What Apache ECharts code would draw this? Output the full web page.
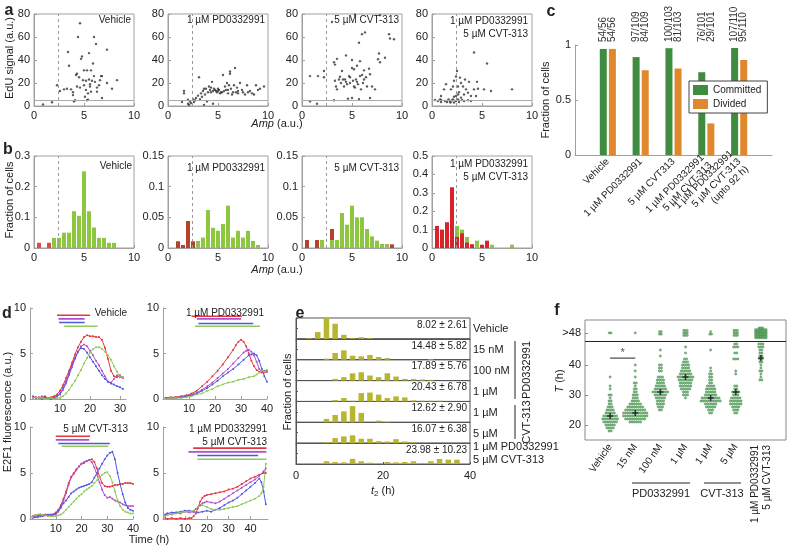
<!DOCTYPE html>
<html><head><meta charset="utf-8">
<script src="https://cdn.jsdelivr.net/npm/echarts@6/dist/echarts.min.js"></script>
<style>html,body{margin:0;padding:0;background:#fff}#c{width:788px;height:547px}</style>
</head><body><div id="c"></div>
<script>
// ---------------- DATA ----------------
// panel a: [Amp, EdU]
const aVehicle = [[0.9,1.4],[1.8,3.2],[2.3,18],[2.6,13],[3.0,14.5],[3.3,15],[3.4,47],[3.5,35],[3.7,14.5],[3.9,9.5],[4.1,5],[4.3,28],[4.3,17],[4.4,60],[4.6,72],[4.5,25],[4.7,41],[4.8,43],[4.9,22.5],[5.0,31],[5.1,8],[5.2,22],[5.2,14],[5.3,31],[5.3,5],[5.4,11],[5.5,46],[5.5,23],[5.6,17],[5.7,31],[5.7,12.5],[5.8,22],[5.9,37],[6.0,60],[6.2,54],[6.1,21],[6.3,16],[6.3,12.5],[6.5,18],[6.6,22.5],[6.7,26],[6.8,26],[6.8,7],[7.3,20],[7.3,49],[7.8,15],[8.3,22.5],[4.2,27],[5.0,18],[4.6,16],[5.6,19],[3.9,12],[6.0,26],[4.0,4],[5.4,5.5]];
const aPD = [[1.4,3.5],[1.6,13],[1.6,11],[2.0,2],[2.1,1],[2.2,4],[2.3,2.5],[2.0,5.5],[2.5,6],[2.6,3.5],[2.7,5],[2.8,7],[3.0,9],[3.1,25],[3.2,6],[3.3,11],[3.4,8],[3.5,13],[3.6,1],[3.6,15],[3.7,10],[3.8,15],[3.9,4],[4.0,12],[4.1,17],[4.2,14],[4.3,12],[4.3,16],[4.4,21],[4.5,13],[4.5,2],[4.6,15],[4.7,14],[4.8,13],[4.9,12],[5.0,13],[5.0,15],[5.1,14],[5.2,11],[5.3,12],[5.4,12],[5.5,27],[5.6,13],[5.7,17],[5.8,14],[5.9,20],[6.0,11],[6.0,14],[6.1,18],[6.2,28],[6.2,30],[6.3,15],[6.4,10],[6.5,12],[6.6,18],[6.7,33],[6.8,12],[6.9,16],[7.0,11],[7.0,13],[7.2,20],[7.4,14],[7.5,12],[7.7,10],[7.9,18],[8.0,12],[8.2,13],[8.4,11],[8.6,10],[8.8,18],[9.0,14],[9.2,15],[9.6,17]];
const aCVT = [[0.8,26],[0.8,4],[1.5,2],[1.6,26],[2.2,30.5],[2.2,25],[3.0,73],[3.2,5],[3.2,38],[3.3,36],[3.3,22],[3.4,17],[3.5,41],[3.5,14.5],[3.7,23],[3.8,25.5],[4.0,30.5],[4.1,23],[4.2,17],[4.3,23],[4.4,44],[4.5,19],[4.6,6.4],[4.7,26],[4.8,20],[4.8,25],[5.0,33],[5.0,40],[5.0,7],[5.1,22],[5.2,17],[5.2,32],[5.3,16],[5.3,79.5],[5.4,23],[5.5,35],[5.6,19],[5.7,55],[5.7,6],[5.8,26],[5.8,39],[5.9,14.5],[6.0,62.5],[6.1,20],[6.2,31],[6.2,23],[6.3,64],[6.4,25],[6.5,17],[6.7,32.5],[6.8,27.6],[6.8,7],[7.0,17],[7.3,14.5],[7.6,40.7],[7.7,45.6],[7.8,38],[7.8,79],[8.3,42],[8.7,62.5],[8.8,58.7],[9.2,58],[4.4,21],[5.5,21],[6.0,27],[3.9,20]];
const aCombo = [[4.2,46.5],[5.5,37],[8.0,14.5],[5.9,13],[5.2,14.5],[4.5,21],[4.6,15],[4.4,8.7],[3.7,21],[3.9,8.7],[3.3,23],[3.1,17],[3.4,14.5],[2.9,20],[2.8,24.7],[2.6,17],[2.5,30.5],[2.4,25.6],[2.2,22],[2.1,17],[1.9,14.5],[1.4,19],[1.2,14.5],[0.9,8.7],[0.8,5.8],[2.6,10],[2.7,12],[2.4,8.7],[2.2,8],[0.3,5.2],[0.6,4.4],[0.9,3.5],[1.3,4.4],[1.5,3.5],[1.8,4],[2.0,5],[2.2,3],[2.4,4.4],[2.6,5.8],[2.7,3.5],[3.0,5.2],[3.2,4.4],[3.6,5],[3.9,4.4],[0.9,5.2],[1.65,5.8],[2.1,5.8],[1.85,3],[2.9,7.3],[3.2,10],[3.6,11.6],[4.2,14.5]];
const ampCut = 2.4, eduCut = 5;

// panel b: histogram bins (Amp) and fractions
const binAmp = [0.5,1,1.5,2,2.5,3,3.5,4,4.5,5,5.5,6,6.5,7,7.5,8,8.5,9,9.5];
const bVehRed   = [0.017,0,0.017,0,0,0,0,0,0,0,0,0,0,0,0,0,0,0,0];
const bVehGreen = [0,0,0,0.033,0.033,0.05,0.05,0.12,0.105,0.25,0.12,0.067,0.033,0.033,0.017,0.017,0,0,0];
const bPDRed    = [0,0.011,0.005,0.044,0.011,0.011,0.005,0.005,0.011,0.022,0.005,0.005,0.005,0.005,0.005,0.005,0.011,0,0];
const bPDGreen  = [0,0,0,0,0,0.011,0.017,0.062,0.033,0.028,0.039,0.069,0.017,0.028,0.017,0.028,0.011,0.005,0];
const bCVTRed   = [0.013,0,0.013,0,0,0.031,0.006,0.006,0.006,0.006,0.019,0.019,0.013,0.006,0,0.006,0.006,0.006,0];
const bCVTGreen = [0,0,0,0.013,0,0.013,0.013,0.057,0.038,0.069,0.05,0.05,0.031,0.019,0.012,0.006,0.006,0,0];
const bComboGreen = [0,0.018,0,0.08,0.12,0.10,0.06,0.02,0.04,0,0,0.018,0,0,0,0.018,0,0,0];
const bComboRed   = [0.12,0.10,0.14,0.33,0.06,0.08,0.03,0.02,0,0.018,0.04,0,0,0,0,0,0,0,0];

// panel c
const cCats = ['Vehicle','1 µM PD0332991','5 µM CVT313','1 µM PD0332991\n5 µM CVT-313','1 µM PD0332991\n5 µM CVT-313\n(upto 92 h)'];
const committedN = [54,97,100,76,107];
const dividedN = [54,84,81,29,95];
const totalN = [56,109,103,101,110];

// panel d: E2F1 traces [time h, fluorescence]
const dVehRed = [[1,0.3],[2,0.1],[3,0.2],[4,0.1],[5,0.3],[6,0.1],[7,0.2],[8,0.3],[9,0.5],[10,0.9],[11,1.5],[12,2.3],[13,3.1],[14,4.0],[15,4.9],[16,5.7],[17,6.3],[18,6.8],[19,7.0],[20,6.9],[21,6.9],[22,6.8],[23,6.8],[24,6.5],[25,5.6],[26,4.4],[27,3.1],[28,2.5],[29,2.4],[30,2.6],[31,2.3]];
const dVehMag = [[1,0.1],[2,0.2],[3,0.1],[4,0.3],[5,0.2],[6,0.1],[7,0.1],[8,0.2],[9,0.3],[10,0.5],[11,1.0],[12,1.7],[13,2.6],[14,3.5],[15,4.4],[16,5.2],[17,5.8],[18,6.0],[19,5.8],[20,5.3],[21,4.8],[22,4.2],[23,3.7],[24,3.1],[25,2.5],[26,1.9],[27,1.8],[28,2.2],[29,2.6],[30,2.4],[31,2.4]];
const dVehBlue = [[1,0.2],[2,0.2],[3,0.1],[4,0.0],[5,0.1],[6,0.1],[7,0.0],[8,0.1],[9,0.3],[10,0.6],[11,1.2],[12,1.9],[13,2.8],[14,3.7],[15,4.5],[16,5.2],[17,5.6],[18,5.5],[19,5.1],[20,4.6],[21,4.1],[22,3.6],[23,3.1],[24,2.6],[25,2.2],[26,1.9],[27,1.7],[28,1.6],[29,1.4],[30,1.3],[31,1.1]];
const dVehGreen = [[1,0.1],[2,0.2],[3,0.1],[4,0.1],[5,0.0],[6,0.1],[7,0.1],[8,0.0],[9,0.1],[10,0.1],[11,0.3],[12,0.6],[13,1.0],[14,1.5],[15,2.0],[16,2.6],[17,3.2],[18,3.9],[19,4.5],[20,5.1],[21,5.5],[22,5.7],[23,5.7],[24,5.5],[25,5.2],[26,4.8],[27,4.3],[28,3.6],[29,3.0],[30,2.5],[31,2.4]];
const dPDRed = [[1,0.1],[3,0.2],[5,0.2],[7,0.3],[9,0.4],[11,0.6],[13,0.9],[15,1.4],[17,1.9],[19,2.5],[21,3.1],[23,3.8],[25,4.6],[27,5.4],[28,5.9],[29,6.3],[30,6.5],[31,6.3],[32,5.8],[33,5.0],[34,4.2],[35,3.6],[36,3.2],[37,3.0],[38,2.9],[39,2.9],[40,3.0]];
const dPDMag = [[1,0.1],[3,0.1],[5,0.2],[7,0.2],[9,0.3],[11,0.5],[13,0.7],[15,1.0],[17,1.4],[19,1.8],[21,2.3],[23,2.8],[25,3.3],[27,3.9],[29,4.5],[31,5.1],[32,5.3],[33,5.4],[34,5.2],[35,4.8],[36,4.1],[37,3.3],[38,3.0],[39,3.1],[40,3.1]];
const dPDBlue = [[1,0.1],[3,0.1],[5,0.1],[7,0.2],[9,0.3],[11,0.4],[13,0.6],[15,0.9],[17,1.2],[19,1.6],[21,2.0],[23,2.5],[25,2.9],[27,3.3],[29,3.8],[31,4.3],[33,4.8],[34,4.9],[35,5.0],[36,4.8],[37,4.2],[38,3.3],[39,2.5],[40,1.9]];
const dPDGreen = [[1,0.0],[3,0.1],[5,0.1],[7,0.1],[9,0.2],[11,0.3],[13,0.5],[15,0.6],[17,0.9],[19,1.1],[21,1.4],[23,1.6],[25,1.8],[27,1.9],[29,2.1],[31,2.2],[33,2.4],[35,2.5],[36,2.7],[37,2.9],[38,3.1],[39,3.0],[40,3.2]];
const dCVTRed = [[1,0.3],[2,0.4],[3,0.3],[4,0.5],[5,0.4],[6,0.5],[7,0.4],[8,0.5],[9,0.5],[10,0.7],[11,1.0],[12,1.5],[13,2.2],[14,3.0],[15,3.9],[16,4.6],[17,5.0],[18,5.4],[19,5.7],[20,6.0],[21,6.1],[22,6.3],[23,6.4],[24,6.5],[25,6.2],[26,5.5],[27,4.6],[28,3.9],[29,3.6],[30,3.5],[31,3.5],[32,3.6],[33,3.7],[34,3.7],[35,3.8],[36,3.8],[37,3.9],[38,3.9],[39,3.9],[40,3.8]];
const dCVTMag = [[1,0.2],[2,0.3],[3,0.4],[4,0.3],[5,0.4],[6,0.4],[7,0.5],[8,0.4],[9,0.4],[10,0.5],[11,0.8],[12,1.2],[13,2.0],[14,2.8],[15,3.7],[16,4.5],[17,4.9],[18,5.3],[19,5.7],[20,6.0],[21,6.2],[22,6.3],[23,6.4],[24,6.2],[25,5.6],[26,4.8],[27,4.0],[28,3.2],[29,2.6],[30,2.3],[31,2.4],[32,2.2],[33,2.0],[34,1.9],[35,1.8],[36,1.6],[37,1.5],[38,1.4],[39,1.4],[40,1.4]];
const dCVTBlue = [[1,0.1],[2,0.2],[3,0.2],[4,0.3],[5,0.3],[6,0.4],[7,0.4],[8,0.4],[9,0.5],[10,0.6],[11,0.9],[12,1.3],[13,1.7],[14,2.0],[15,2.4],[16,2.8],[17,3.0],[18,3.2],[19,3.4],[20,3.5],[21,3.6],[22,3.7],[23,3.8],[24,4.0],[25,4.5],[26,5.0],[27,5.5],[28,6.0],[29,6.5],[30,6.9],[31,7.2],[32,7.3],[33,6.5],[34,5.0],[35,3.8],[36,2.7],[37,1.8],[38,1.2],[39,1.0],[40,0.9]];
const dCVTGreen = [[1,0.2],[2,0.4],[3,0.5],[4,0.5],[5,0.4],[6,0.4],[7,0.3],[8,0.3],[9,0.3],[10,0.3],[11,0.4],[12,0.5],[13,0.7],[14,1.0],[15,1.3],[16,1.6],[17,1.9],[18,2.2],[19,2.5],[20,2.7],[21,3.0],[22,3.2],[23,3.4],[24,3.6],[25,3.9],[26,4.2],[27,4.5],[28,4.8],[29,5.0],[30,5.1],[31,4.7],[32,4.0],[33,3.0],[34,2.0],[35,1.4],[36,1.0],[37,0.8],[38,0.7],[39,0.6],[40,0.6]];
const dComboRed = [[1,0.1],[2,0.0],[4,0.1],[6,0.0],[8,0.1],[10,0.0],[12,0.1],[13,0.1],[14,0.3],[15,0.6],[16,1.2],[17,1.9],[18,2.3],[19,2.5],[20,2.6],[22,2.7],[24,2.8],[26,2.9],[28,3.0],[30,3.2],[32,3.3],[34,3.5],[36,3.8],[38,4.1],[40,4.4],[42,4.6],[44,4.8],[46,5.0],[47,5.0]];
const dComboMag = [[1,0.4],[2,0.6],[4,0.5],[6,0.7],[8,0.6],[10,0.8],[12,0.7],[14,0.8],[15,1.1],[16,1.3],[17,1.5],[18,1.7],[19,1.8],[20,1.9],[22,1.8],[24,1.7],[26,1.9],[28,2.2],[30,2.5],[32,2.8],[34,3.1],[36,3.4],[38,3.7],[40,4.0],[42,4.3],[44,4.7],[46,5.2],[47,5.5]];
const dComboBlue = [[1,0.5],[2,0.6],[4,0.7],[6,0.7],[8,0.8],[10,0.9],[12,0.9],[14,0.8],[16,0.7],[18,0.8],[20,0.9],[22,0.8],[24,1.0],[26,1.2],[28,1.5],[30,1.8],[32,2.0],[34,2.3],[36,2.7],[38,3.1],[40,3.5],[42,3.9],[44,4.4],[45,4.0],[46,3.0],[47,1.6]];
const dComboGreen = [[1,0.3],[2,0.4],[4,0.5],[6,0.6],[8,0.7],[10,0.8],[12,0.8],[14,0.9],[16,1.3],[18,1.5],[20,1.3],[22,1.1],[24,1.0],[26,1.0],[28,1.1],[30,1.2],[32,1.3],[34,1.4],[36,1.6],[38,1.8],[40,2.0],[42,2.2],[44,2.5],[45,2.8],[46,3.5],[47,6.0]];
// interval bars [start h, end h, level] in order red, magenta, blue, green
const dVehIntervals = [[9,20,9.2],[9.5,18.2,8.8],[9.7,18.2,8.4],[11.4,22.5,8.0]];
const dPDIntervals = [[11,30.3,9.1],[13,30,8.8],[13.6,34.7,8.3],[12.3,37.3,8.0]];
const dCVTIntervals = [[10,23.3,9.0],[10,23,8.6],[11,31,8.2],[12.3,30.4,7.9]];
const dComboIntervals = [[13.8,47.3,7.7],[11.6,47.3,7.3],[15.7,43.5,6.9],[15.7,47.3,6.5]];

// panel e: t2 histograms, bin centres (h) and fraction per row
const eBins = [1,3,5,7,9,11,13,15,17,19,21,23,25,27,29,31,33,35,37,39];
const eVehicle = [0,0.013,0.13,0.40,0.29,0.077,0.013,0.032,0.013,0,0,0,0,0,0,0,0,0,0,0];
const ePD15 = [0,0,0,0.02,0.13,0.18,0.077,0.065,0.09,0.052,0.032,0,0,0,0,0.013,0,0,0,0];
const ePD100 = [0,0,0,0,0.032,0.065,0.14,0.16,0.097,0.065,0.14,0.077,0.032,0.032,0.02,0.013,0,0,0,0];
const ePD1u = [0,0,0,0,0.026,0.065,0.013,0.16,0.17,0.13,0.065,0.097,0.077,0.02,0.013,0.013,0.013,0,0,0];
const eCVT1u = [0,0,0,0.065,0.14,0.21,0.31,0.18,0,0.032,0.006,0,0,0,0,0,0,0,0,0];
const eCVT5u = [0,0,0,0.02,0.097,0.13,0.15,0.084,0.084,0.039,0.032,0.077,0.032,0.013,0,0,0,0,0,0];
const eCombo = [0,0,0,0.052,0.039,0.032,0.10,0.052,0.026,0.013,0.039,0.032,0.039,0.052,0.02,0.052,0.097,0.084,0.084,0];
const eRowLabels = ['Vehicle','15 nM','100 nM','1 µM','1 µM','5 µM','1 µM PD0332991\n5 µM CVT-313'];
const eStats = ['8.02 ± 2.61','14.48 ± 5.82','17.89 ± 5.76','20.43 ± 6.78','12.62 ± 2.90','16.07 ± 6.38','23.98 ± 10.23'];

// panel f: T (h) distributions as [hour, count]
const fCats = ['Vehicle','15 nM','100 nM','1 µM','1 µM','5 µM','1 µM PD0332991\n5 µM CVT-313'];
const fVehicle = [[18,2],[19,4],[20,5],[21,7],[22,8],[23,7],[24,5],[25,4],[26,3],[27,2],[28,2],[29,1],[30,2],[32,1],[33,1],[36,1]];
const fPD15 = [[21,6],[22,10],[23,12],[24,12],[25,10],[26,8],[27,6],[28,4],[29,3],[30,3],[31,2],[32,2],[33,1],[34,2],[36,1],[38,1],[40,1]];
const fPD100 = [[25,2],[26,3],[27,4],[28,4],[29,5],[30,6],[31,8],[32,6],[33,5],[34,4],[35,4],[36,3],[38,2],[39,2],[40,2],[43,1],[45,1]];
const fPD1u = [[29,1],[30,3],[31,3],[32,5],[33,6],[34,6],[35,7],[36,8],[37,6],[38,5],[39,4],[40,4],[41,3],[42,2],[44,1],[46,1]];
const fCVT1u = [[24,2],[25,3],[26,5],[27,6],[28,10],[29,9],[30,6],[31,5],[32,5],[33,4],[34,2],[35,2],[36,2],[37,2],[38,1],[39,1],[45,1]];
const fCVT5u = [[24,2],[25,3],[26,4],[27,6],[28,6],[29,5],[30,3],[31,4],[32,2],[33,2],[37,1],[38,1],[42,3],[44,2],[46,3],[47,2]];
const fCombo = [[35,2],[36,1],[37,1],[38,2],[39,1],[40,1],[41,2],[42,2],[43,2],[44,2],[45,2],[46,3],[47,3]];
const fOver48 = [2,1,4,9,3,9,45];
const fMean = [23,24,31,36,29,31,42.3];
const fSigPair = [1,2], fSigLevel = 42.3;

// ---------------- BUILD ----------------
const FONT = '"Liberation Sans", Arial, Helvetica, sans-serif';
const AX = '#a0a0a0';
const grids=[], xAxis=[], yAxis=[], series=[], graphic=[];
function grid(l,t,w,h,box,bc){ grids.push({left:l,top:t,width:w,height:h,show:!!box,borderColor:bc||AX,borderWidth:1,backgroundColor:'rgba(0,0,0,0)'}); return grids.length-1; }
function mk(base,o){ const r=Object.assign({},base); for(const k in o){ if(o[k]&&typeof o[k]==='object'&&!Array.isArray(o[k])&&base[k]&&typeof base[k]==='object') r[k]=Object.assign({},base[k],o[k]); else r[k]=o[k]; } return r; }
function baseAxis(gi){ return {gridIndex:gi,type:'value',splitLine:{show:false},
  axisLine:{show:true,onZero:false,lineStyle:{color:AX,width:1}},
  axisTick:{show:true,inside:true,length:3,lineStyle:{color:AX}},
  axisLabel:{color:'#222',fontSize:11,fontFamily:FONT,margin:4}}; }
function X(gi,o){ xAxis.push(mk(baseAxis(gi),Object.assign({position:'bottom'},o))); return xAxis.length-1; }
function Y(gi,o){ yAxis.push(mk(baseAxis(gi),Object.assign({position:'left'},o))); return yAxis.length-1; }
function txt(x,y,text,o){ o=o||{}; graphic.push({type:'text',x:x,y:y,rotation:o.rot||0,silent:true,z:10,
  style:{text:text,fill:o.color||'#222',fontSize:o.size||10,fontFamily:FONT,fontWeight:o.bold?'bold':'normal',
  align:o.align||'center',verticalAlign:o.va||'middle',textAlign:o.align||'center',textVerticalAlign:o.va||'middle',lineHeight:o.lh,rich:o.rich}}); }
function ln(x1,y1,x2,y2,c,w){ graphic.push({type:'line',silent:true,z:10,shape:{x1:x1,y1:y1,x2:x2,y2:y2},style:{stroke:c||'#222',lineWidth:w||1}}); }
const pairs = (xs,ys) => xs.map((x,i)=>[x,ys[i]]).filter(p=>p[1]>0);

// ---- panel a ----
const aSets=[aVehicle,aPD,aCVT,aCombo];
const pLeft=[34,168,302,432];
aSets.forEach((d,i)=>{
  const g=grid(pLeft[i],14,100,92,true);
  const xi=X(g,{min:0,max:10,interval:5}), yi=Y(g,{min:0,max:80,interval:20});
  series.push({type:'scatter',xAxisIndex:xi,yAxisIndex:yi,data:d,symbolSize:2.4,itemStyle:{color:'#333'},
    markLine:{silent:true,symbol:['none','none'],label:{show:false},animation:false,
      data:[{xAxis:ampCut,lineStyle:{type:[3,3],color:'#999',width:1}},{yAxis:eduCut,lineStyle:{type:'solid',color:'#aaa',width:1}}]}});
});
// ---- panel b ----
const bSets=[
  {max:0.3,int:0.1,bottom:bVehRed,top:bVehGreen,cb:'#e0484e',ct:'#8dc63f'},
  {max:0.15,int:0.05,bottom:bPDRed,top:bPDGreen,cb:'#b8412b',ct:'#8dc63f'},
  {max:0.15,int:0.05,bottom:bCVTRed,top:bCVTGreen,cb:'#b8412b',ct:'#8dc63f'},
  {max:0.5,int:0.1,bottom:bComboGreen,top:bComboRed,cb:'#8dc63f',ct:'#d9232b'}];
bSets.forEach((s,i)=>{
  const g=grid(pLeft[i],156,100,92,true);
  const xi=X(g,{min:0,max:10,interval:5}), yi=Y(g,{min:0,max:s.max,interval:s.int});
  series.push({type:'bar',xAxisIndex:xi,yAxisIndex:yi,stack:'b'+i,barWidth:4,data:pairs(binAmp,s.bottom),itemStyle:{color:s.cb},
    markLine:{silent:true,symbol:['none','none'],label:{show:false},animation:false,data:[{xAxis:ampCut,lineStyle:{type:[3,3],color:'#999',width:1}}]}});
  series.push({type:'bar',xAxisIndex:xi,yAxisIndex:yi,stack:'b'+i,barWidth:4,data:pairs(binAmp,s.top),itemStyle:{color:s.ct}});
});
// ---- panel c ----
{
  const g=grid(575,45,197,110,false);
  const xi=X(g,{type:'category',boundaryGap:false,data:['',...cCats,''],axisTick:{show:false},
    axisLabel:{interval:0,rotate:45,fontSize:10,margin:5,lineHeight:11}});
  const yi=Y(g,{min:0,max:1,interval:0.5,name:'Fraction of cells',nameLocation:'middle',nameGap:20,
    nameTextStyle:{fontSize:11,fontFamily:FONT,color:'#222'}});
  const pad=a=>['-',...a,'-'];
  const comm=committedN.map((n,i)=>n/totalN[i]), div=dividedN.map((n,i)=>n/totalN[i]);
  const lab=(arr)=>({show:true,position:'top',rotate:90,align:'left',verticalAlign:'middle',distance:3,fontSize:10,fontFamily:FONT,color:'#333',
     formatter:p=>arr[p.dataIndex-1]+'/'+totalN[p.dataIndex-1]});
  series.push({type:'bar',name:'Committed',xAxisIndex:xi,yAxisIndex:yi,stack:'cc',barWidth:7,barGap:'30%',data:pad(comm),itemStyle:{color:'#3f8b3f'}});
  series.push({type:'bar',name:'capC',xAxisIndex:xi,yAxisIndex:yi,stack:'cc',barWidth:7,barGap:'30%',data:pad(comm.map(v=>1-v)),itemStyle:{color:'rgba(0,0,0,0)'},label:lab(committedN)});
  series.push({type:'bar',name:'Divided',xAxisIndex:xi,yAxisIndex:yi,stack:'cd',barWidth:7,barGap:'30%',data:pad(div),itemStyle:{color:'#e0882e'}});
  series.push({type:'bar',name:'capD',xAxisIndex:xi,yAxisIndex:yi,stack:'cd',barWidth:7,barGap:'30%',data:pad(div.map(v=>1-v)),itemStyle:{color:'rgba(0,0,0,0)'},label:lab(dividedN)});
}
// ---- panel d ----
const dCol=['#e8363e','#b24fd0','#5158e0','#8fcb5a'];
const dSets=[
  {r:[30,308,96,91],max:32,ticks:[10,20,30],c:[dVehRed,dVehMag,dVehBlue,dVehGreen],iv:dVehIntervals},
  {r:[163,308,104,91],max:40,ticks:[10,20,30,40],c:[dPDRed,dPDMag,dPDBlue,dPDGreen],iv:dPDIntervals},
  {r:[30,427,103,92],max:40,ticks:[10,20,30,40],c:[dCVTRed,dCVTMag,dCVTBlue,dCVTGreen],iv:dCVTIntervals},
  {r:[163,427,105,92],max:48,ticks:[10,20,30,40],c:[dComboRed,dComboMag,dComboBlue,dComboGreen],iv:dComboIntervals}];
dSets.forEach(s=>{
  const g=grid(s.r[0],s.r[1],s.r[2],s.r[3],false);
  const xi=X(g,{min:0,max:s.max,axisLabel:{customValues:s.ticks},axisTick:{customValues:s.ticks}});
  const yi=Y(g,{min:0,max:10,interval:5});
  s.c.forEach((d,k)=>series.push({type:'line',xAxisIndex:xi,yAxisIndex:yi,data:d,symbol:'circle',symbolSize:2,showSymbol:true,
     lineStyle:{width:1,color:dCol[k]},itemStyle:{color:dCol[k]}}));
  s.iv.forEach((v,k)=>series.push({type:'line',xAxisIndex:xi,yAxisIndex:yi,data:[[v[0],v[2]],[v[1],v[2]]],symbol:'none',lineStyle:{width:1.6,color:dCol[k]}}));
});
// ---- panel e ----
const eRows=[eVehicle,ePD15,ePD100,ePD1u,eCVT1u,eCVT5u,eCombo];
const eTop=318, eH=20.86;
eRows.forEach((r,i)=>{
  const last=i===eRows.length-1;
  const g=grid(296,eTop+i*eH,174,eH,true,'#555');
  const xi=X(g,{min:0,max:40,interval:10,axisLine:{lineStyle:{color:'#555'}},axisTick:{show:last,length:2,lineStyle:{color:'#555'},customValues:[0,20,40]},
     axisLabel:{show:last,customValues:[0,20,40],margin:6}});
  const yi=Y(g,{min:0,max:0.4,interval:0.2,axisLine:{lineStyle:{color:'#555'}},axisTick:{length:2,lineStyle:{color:'#555'}},axisLabel:{show:false}});
  series.push({type:'bar',xAxisIndex:xi,yAxisIndex:yi,barWidth:5.5,data:pairs(eBins,r),itemStyle:{color:'#b8b52f'}});
  txt(467,eTop+i*eH+7,eStats[i],{align:'right',size:10});
  txt(473,eTop+i*eH+eH/2+(last?0:1),eRowLabels[i],{align:'left',size:11,lh:13});
});
// ---- panel f ----
{
  const g=grid(585,320,201,120,true,'#888');
  const xi=X(g,{min:0,max:8,axisLine:{show:false},axisTick:{show:false},
    axisLabel:{customValues:[1,2,3,4,5,6],rotate:55,fontSize:10,margin:5,formatter:v=>fCats[v-1]}});
  X(g,{min:0,max:8,axisLine:{show:false},axisTick:{show:false},
    axisLabel:{customValues:[7],rotate:90,fontSize:10,margin:5,lineHeight:12,formatter:v=>fCats[v-1]}});
  const yi=Y(g,{min:15,max:55,axisLine:{show:false},axisTick:{customValues:[20,30,40,50.7],length:3,lineStyle:{color:'#888'}},
    axisLabel:{customValues:[20,30,40,50.7],formatter:v=>v>48?'>48':String(v)}});
  const cols=[fVehicle,fPD15,fPD100,fPD1u,fCVT1u,fCVT5u,fCombo];
  const dx=0.085, dxo=0.07, dyo=0.55, perRow=[4,4,2,3,2,3,7];
  const pts=[];
  cols.forEach((arr,ci)=>{
    const c=ci+1;
    arr.forEach(([h,n])=>{ for(let j=0;j<n;j++) pts.push([c+(j-(n-1)/2)*dx,h]); });
    const n=fOver48[ci], pr=perRow[ci], rows=Math.ceil(n/pr);
    for(let r=0;r<rows;r++){ const m=Math.min(pr,n-r*pr); for(let j=0;j<m;j++) pts.push([c+(j-(m-1)/2)*dxo,50.7+(r-(rows-1)/2)*dyo*(rows>3?1:1.5)]); }
  });
  series.push({type:'scatter',xAxisIndex:xi,yAxisIndex:yi,data:pts,symbolSize:2.3,itemStyle:{color:'#62b268',borderColor:'#2f6f38',borderWidth:0.4},
    markLine:{silent:true,symbol:['none','none'],label:{show:false},animation:false,data:[{yAxis:48,lineStyle:{type:'solid',color:'#222',width:1}}]}});
  series.push({type:'scatter',xAxisIndex:xi,yAxisIndex:yi,data:fMean.map((m,i)=>[i+1,m]),symbol:'path://M3,0h2v3h3v2h-3v3h-2v-3h-3v-2h3z',symbolSize:6,itemStyle:{color:'#111'},z:5});
  series.push({type:'line',xAxisIndex:xi,yAxisIndex:yi,data:fSigPair.map(x=>[x,fSigLevel]),symbol:'none',lineStyle:{color:'#222',width:1}});
  series.push({type:'scatter',xAxisIndex:xi,yAxisIndex:yi,data:[[(fSigPair[0]+fSigPair[1])/2,fSigLevel]],symbolSize:0,
    label:{show:true,formatter:'*',position:'top',distance:0,fontSize:11,color:'#222'}});
}

// ---- texts ----
const ital={i:{fontStyle:'italic',fontSize:11,fontFamily:FONT},n:{fontSize:11,fontFamily:FONT}};
txt(9,11,'a',{bold:true,size:16}); txt(8,150,'b',{bold:true,size:16}); txt(551,12,'c',{bold:true,size:16});
txt(7,314,'d',{bold:true,size:16}); txt(300,314,'e',{bold:true,size:16}); txt(557,311,'f',{bold:true,size:16});
txt(10,58,'EdU signal (a.u.)',{rot:Math.PI/2,size:11});
txt(277,124,'{i|Amp}{n| (a.u.)}',{rich:ital});
txt(10,200,'Fraction of cells',{rot:Math.PI/2,size:11});
txt(277,270,'{i|Amp}{n| (a.u.)}',{rich:ital});
txt(131,20,'Vehicle',{align:'right'}); txt(265,20,'1 µM PD0332991',{align:'right'});
txt(399,20,'5 µM CVT-313',{align:'right'});
txt(528,21,'1 µM PD0332991',{align:'right'}); txt(528,34,'5 µM CVT-313',{align:'right'});
txt(132,166,'Vehicle',{align:'right'}); txt(265,168,'1 µM PD0332991',{align:'right'});
txt(399,168,'5 µM CVT-313',{align:'right'});
txt(528,164,'1 µM PD0332991',{align:'right'}); txt(528,177,'5 µM CVT-313',{align:'right'});
// d
txt(8,412,'E2F1 fluorescence (a.u.)',{rot:Math.PI/2,size:11});
txt(149,540,'Time (h)',{size:11});
txt(127,313,'Vehicle',{align:'right'}); txt(264,313,'1 µM PD0332991',{align:'right'});
txt(128,429,'5 µM CVT-313',{align:'right'});
txt(267,429,'1 µM PD0332991',{align:'right'}); txt(267,442,'5 µM CVT-313',{align:'right'});
// e
txt(288,392,'Fraction of cells',{rot:Math.PI/2,size:11});
txt(383,491,'{i|t}{s|2}{n| (h)}',{rich:{i:{fontStyle:'italic',fontSize:11,fontFamily:FONT},s:{fontSize:8,fontFamily:FONT,padding:[6,0,0,0]},n:{fontSize:11,fontFamily:FONT}}});
ln(515,341,515,399,'#222',1); txt(527,370,'PD0332991',{rot:Math.PI/2,size:11});
ln(515,405,515,439,'#222',1); txt(527,422,'CVT-313',{rot:Math.PI/2,size:11});
// f
txt(560,381,'{i|T}{n| (h)}',{rot:Math.PI/2,rich:ital});
ln(632,483,690,483,'#222',1); txt(661,494,'PD0332991',{size:11});
ln(704,483,741,483,'#222',1); txt(722,494,'CVT-313',{size:11});

const chart=echarts.init(document.getElementById('c'),null,{renderer:'canvas'});
chart.setOption({
  animation:false,
  textStyle:{fontFamily:FONT},
  grid:grids, xAxis:xAxis, yAxis:yAxis, series:series,
  legend:{data:['Committed','Divided'],left:689,top:81,orient:'vertical',itemWidth:15,itemHeight:10,itemGap:4,padding:[4,6,4,4],
    borderColor:'#444',borderWidth:1,backgroundColor:'#fff',icon:'rect',textStyle:{fontSize:10,fontFamily:FONT,color:'#222'},selectedMode:false},
  graphic:{elements:graphic}
});
</script></body></html>
